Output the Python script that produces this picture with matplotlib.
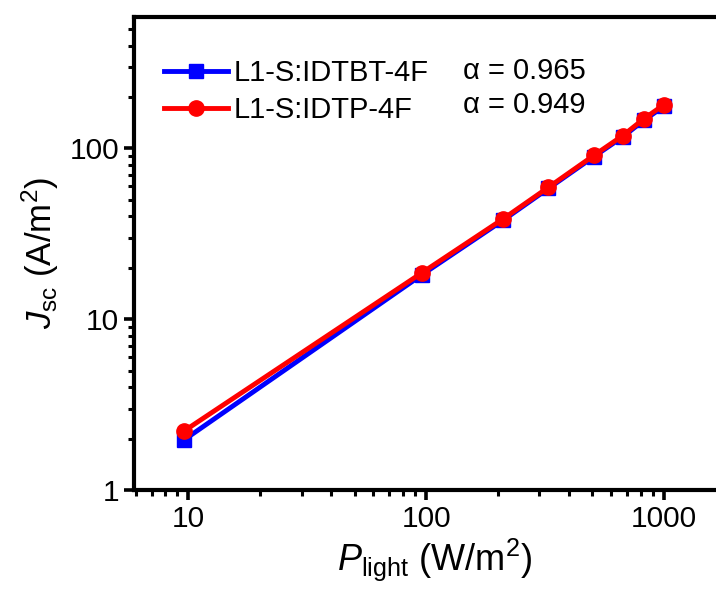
import matplotlib
matplotlib.use('Agg')
import matplotlib.pyplot as plt
from matplotlib.ticker import FuncFormatter, LogLocator

# ---- data ----
p_light = [9.6, 96, 211, 327, 508, 673, 824, 1000]
jsc_idtbt = [1.97, 18.2, 38.0, 58.3, 89.5, 117, 146, 176]
jsc_idtp = [2.22, 18.7, 38.7, 59.2, 91.0, 119, 149, 180]
labels = ['L1-S:IDTBT-4F', 'L1-S:IDTP-4F']
alphas = ['α = 0.965', 'α = 0.949']

plt.rcParams['font.family'] = ['Liberation Sans', 'DejaVu Sans']
plt.rcParams['mathtext.fontset'] = 'custom'
plt.rcParams['mathtext.rm'] = 'Liberation Sans'
plt.rcParams['mathtext.it'] = 'Liberation Sans:italic'

fig = plt.figure(figsize=(7.16, 5.97), dpi=100)
ax = fig.add_axes([0.187, 0.179, 0.840, 0.793])

ax.plot(p_light, jsc_idtbt, color='#0000ff', lw=3.5, marker='s', ms=9.5,
        label=labels[0], zorder=3)
ax.plot(p_light, jsc_idtp, color='#ff0000', lw=3.5, marker='o', ms=11,
        label=labels[1], zorder=4)

ax.set_xscale('log')
ax.set_yscale('log')
ax.set_xlim(5.9, 2000)
ax.set_ylim(1, 590)

fmt = FuncFormatter(lambda v, pos: f'{v:g}')
ax.xaxis.set_major_formatter(fmt)
ax.yaxis.set_major_formatter(fmt)
ax.xaxis.set_minor_locator(LogLocator(subs=range(2, 10)))
ax.yaxis.set_minor_locator(LogLocator(subs=range(2, 10)))
ax.tick_params(which='major', direction='out', length=7, width=2.6,
               labelsize=21.5, top=False, right=False)
ax.tick_params(which='minor', direction='out', length=4, width=2.2,
               top=False, right=False)
for s in ax.spines.values():
    s.set_linewidth(3)

ax.set_xlabel(r'$\mathit{P}_{\mathrm{light}}$ (W/m$^2$)', fontsize=26, labelpad=3)
ax.set_ylabel(r'$\mathit{J}_{\mathrm{sc}}$ (A/m$^2$)', fontsize=25, labelpad=6)

leg = ax.legend(loc='upper left', bbox_to_anchor=(0.03, 0.935), frameon=False,
                fontsize=21, handlelength=2.2, handletextpad=0.2,
                labelspacing=0.3, borderaxespad=0)

ax.text(0.547, 0.886, alphas[0], transform=ax.transAxes, fontsize=21, va='center')
ax.text(0.547, 0.814, alphas[1], transform=ax.transAxes, fontsize=21, va='center')

fig.savefig('out.png', dpi=100)
